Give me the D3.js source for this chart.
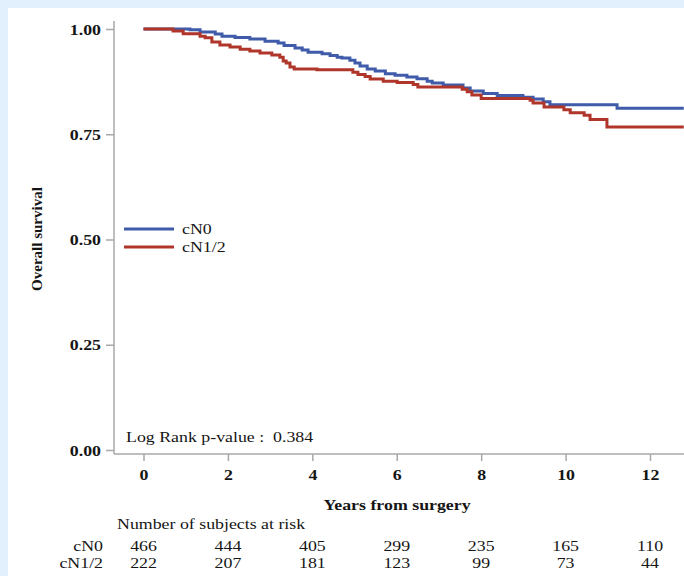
<!DOCTYPE html>
<html>
<head>
<meta charset="utf-8">
<script src="https://cdn.jsdelivr.net/npm/d3@7"></script>
<style>
  html, body { margin: 0; padding: 0; background: #e1f0fc; }
  svg { display: block; }
  text { font-family: "Liberation Serif", "Times New Roman", serif; fill: #151515; white-space: pre; }
</style>
</head>
<body>
<script>
// Kaplan-Meier step points: follow-up time (years) and survival probability
const cN0Time = [0, 1.10, 1.34, 1.70, 1.86, 2.17, 2.52, 2.88, 3.19, 3.33, 3.59, 3.76, 3.90, 4.23, 4.42, 4.59, 4.70, 4.89, 5.01, 5.13, 5.30, 5.49, 5.73, 5.96, 6.24, 6.48, 6.72, 6.84, 7.10, 7.57, 7.74, 8.05, 8.38, 8.99, 9.23, 9.47, 9.63, 11.22, 12.80];
const cN0Surv = [1, 0.998, 0.993, 0.988, 0.983, 0.980, 0.976, 0.971, 0.967, 0.961, 0.955, 0.950, 0.945, 0.941, 0.937, 0.933, 0.931, 0.926, 0.919, 0.912, 0.905, 0.900, 0.894, 0.890, 0.886, 0.882, 0.876, 0.872, 0.867, 0.860, 0.853, 0.847, 0.842, 0.838, 0.834, 0.827, 0.820, 0.812, 0.812];

const cN12Time = [0, 0.70, 0.94, 1.34, 1.46, 1.62, 1.81, 2.05, 2.29, 2.52, 2.76, 3.04, 3.23, 3.31, 3.38, 3.47, 3.57, 4.11, 4.96, 5.08, 5.25, 5.37, 5.68, 6.01, 6.39, 6.50, 7.55, 7.67, 7.78, 8.00, 9.16, 9.23, 9.49, 9.96, 10.11, 10.44, 10.58, 10.98, 12.80];
const cN12Surv = [1, 0.995, 0.989, 0.983, 0.979, 0.969, 0.962, 0.957, 0.952, 0.948, 0.943, 0.938, 0.933, 0.924, 0.919, 0.910, 0.905, 0.903, 0.897, 0.892, 0.887, 0.881, 0.876, 0.873, 0.868, 0.862, 0.857, 0.851, 0.843, 0.835, 0.831, 0.824, 0.815, 0.808, 0.801, 0.795, 0.785, 0.767, 0.767];

const groupNames = ["cN0", "cN1/2"];
const xTicks = [0, 2, 4, 6, 8, 10, 12];
const yTicks = [0, 0.25, 0.5, 0.75, 1];
const riskCN0 = [466, 444, 405, 299, 235, 165, 110];
const riskCN12 = [222, 207, 181, 123, 99, 73, 44];
const pValueText = "Log Rank p-value :  0.384";

const W = 684, H = 576;
const SX = 1.19;              // horizontal text stretch
const blue = "#3f5ba9", red = "#b0362b", axisGrey = "#a8a8a8";

const svg = d3.select("body").append("svg").attr("width", W).attr("height", H);
svg.append("rect").attr("x", 8).attr("y", 8).attr("width", W - 8).attr("height", H - 8).attr("fill", "#ffffff");

const x = d3.scaleLinear().domain([0, 12]).range([143.5, 650]);
const y = d3.scaleLinear().domain([0, 1]).range([450, 29]);

const axisX = 114, axisY = 454;

function stretchedText(g, px, py, str, anchor, weight, size) {
  return g.append("text")
    .attr("transform", `translate(${px},${py}) scale(${SX},1)`)
    .attr("text-anchor", anchor || "start")
    .attr("font-weight", weight || "normal")
    .attr("font-size", (size || 15) + "px")
    .attr("xml:space", "preserve")
    .text(str);
}

// Frame lines
svg.append("line").attr("x1", axisX).attr("x2", axisX).attr("y1", y(1) - 8).attr("y2", axisY)
  .attr("stroke", axisGrey).attr("stroke-width", 1.5);
svg.append("line").attr("x1", axisX).attr("x2", W).attr("y1", axisY).attr("y2", axisY)
  .attr("stroke", axisGrey).attr("stroke-width", 1.5);

// Y axis
const gy = svg.append("g").attr("transform", `translate(${axisX},0)`)
  .call(d3.axisLeft(y).tickValues(yTicks).tickFormat(d3.format(".2f")).tickSize(8).tickSizeOuter(0));
gy.select(".domain").remove();
gy.selectAll(".tick line").attr("stroke", axisGrey).attr("stroke-width", 1.5);
gy.selectAll(".tick text")
  .attr("x", 0).attr("dy", "0")
  .attr("transform", `translate(-13,5) scale(${SX},1)`)
  .attr("font-family", null).attr("font-size", "15px").attr("font-weight", "bold")
  .attr("fill", "#151515");

// X axis
const gx = svg.append("g").attr("transform", `translate(0,${axisY})`)
  .call(d3.axisBottom(x).tickValues(xTicks).tickFormat(d3.format("d")).tickSize(7).tickSizeOuter(0));
gx.select(".domain").remove();
gx.selectAll(".tick line").attr("stroke", axisGrey).attr("stroke-width", 1.5);
gx.selectAll(".tick text")
  .attr("y", 0).attr("dy", "0")
  .attr("transform", `translate(0,26) scale(${SX},1)`)
  .attr("font-family", null).attr("font-size", "15px").attr("font-weight", "bold")
  .attr("fill", "#151515");

// Survival curves
const line = d3.line().curve(d3.curveStepAfter).x(d => x(d[0])).y(d => y(d[1]));
const series = [
  { name: groupNames[0], color: blue, pts: d3.zip(cN0Time, cN0Surv) },
  { name: groupNames[1], color: red, pts: d3.zip(cN12Time, cN12Surv) }
];
svg.append("g").selectAll("path").data(series).join("path")
  .attr("d", d => line(d.pts))
  .attr("fill", "none")
  .attr("stroke", d => d.color)
  .attr("stroke-width", 3);

// Legend
const legend = svg.append("g");
series.forEach((s, i) => {
  const ly = 229 + i * 18;
  legend.append("line").attr("x1", 124).attr("x2", 174).attr("y1", ly).attr("y2", ly)
    .attr("stroke", s.color).attr("stroke-width", 3);
  stretchedText(legend, 182, ly + 5, s.name, "start", "normal", 15);
});

// p-value
stretchedText(svg, 126, 442, pValueText, "start", "normal", 15);

// Axis titles
stretchedText(svg, 397, 510, "Years from surgery", "middle", "bold", 15);
svg.append("text")
  .attr("transform", `translate(42,239) rotate(-90)`)
  .attr("text-anchor", "middle").attr("font-weight", "bold").attr("font-size", "15px")
  .text("Overall survival");

// Number at risk table
stretchedText(svg, 117, 529, "Number of subjects at risk", "start", "normal", 15);
const riskRows = [riskCN0, riskCN12];
riskRows.forEach((row, i) => {
  const ry = 551 + i * 17;
  stretchedText(svg, 103, ry, groupNames[i], "end", "normal", 15);
  row.forEach((v, j) => stretchedText(svg, x(xTicks[j]), ry, String(v), "middle", "normal", 15));
});
</script>
</body>
</html>
